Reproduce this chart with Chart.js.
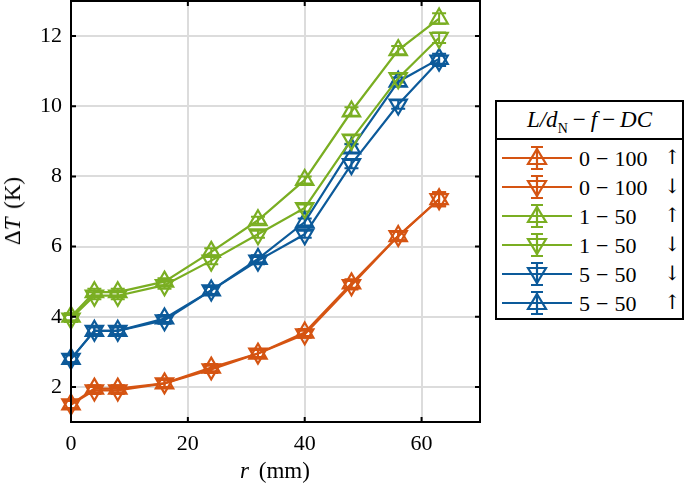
<!DOCTYPE html>
<html>
<head>
<meta charset="utf-8">
<script src="https://cdn.jsdelivr.net/npm/chart.js@4.4.1/dist/chart.umd.min.js"></script>
<style>
  body { margin: 0; background: #fff; font-family: "Liberation Serif", serif; color: #000; }
  #wrap { position: relative; width: 685px; height: 486px; }
  #chart { position: absolute; left: 0; top: 0; }
  .ylab { position: absolute; left: 13px; top: 211px; transform: translate(-50%, -50%) rotate(-90deg); font-size: 23px; white-space: nowrap; word-spacing: 3px; }
  .xlab { position: absolute; left: 275px; top: 471px; transform: translate(-50%, -50%); font-size: 23px; white-space: nowrap; word-spacing: 4px; }
  .m { margin: 0 6px; }
  #legend { position: absolute; left: 495px; top: 100px; width: 185px; height: 216px; border: 2px solid #000; background: #fff; }
  #legend .title { height: 36px; line-height: 36px; text-align: center; font-size: 23px; border-bottom: 2px solid #000; font-style: italic; white-space: nowrap; }
  #legend .title sub { font-style: normal; font-size: 14px; }
  #legend .title .m { font-style: normal; margin: 0 5px; }
  #legend .row { position: absolute; left: 0; height: 29px; width: 185px; font-size: 22px; white-space: nowrap; }
  #legend .row svg { position: absolute; left: 5px; top: 0; }
  #legend .row .txt { position: absolute; left: 82px; top: 2px; }
  #legend .row .arr { position: absolute; left: 167px; top: 1px; font-family: "DejaVu Serif", serif; font-size: 20px; color: #000; }
</style>
</head>
<body>
<div id="wrap">
  <canvas id="chart" width="685" height="486"></canvas>
  <div class="ylab">&Delta;<i>T</i> (K)</div>
  <div class="xlab"><i>r</i> (mm)</div>
  <div id="legend"><div class="title">L/d<sub>N</sub><span class="m">&minus;</span>f<span class="m">&minus;</span>DC</div></div>
</div>
<script>
const radius = [0, 4, 8, 16, 24, 32, 40, 48, 56, 63];
const orangeUp   = [1.5, 1.95, 1.95, 2.1, 2.55, 2.95, 3.55, 4.95, 6.3, 7.35];
const orangeDown = [1.5, 1.9, 1.9, 2.1, 2.5, 2.95, 3.5, 4.9, 6.3, 7.35];
const greenUp    = [4.0, 4.7, 4.7, 5.0, 5.85, 6.75, 7.9, 9.85, 11.6, 12.5];
const greenDown  = [3.95, 4.6, 4.6, 4.9, 5.6, 6.35, 7.1, 9.05, 10.8, 11.95];
const blueDown   = [2.8, 3.6, 3.6, 3.9, 4.75, 5.6, 6.35, 8.35, 10.05, 11.3];
const blueUp     = [2.8, 3.6, 3.6, 3.95, 4.75, 5.65, 6.7, 8.8, 10.7, 11.35];
const errOrange = [0.1, 0.1, 0.1, 0.1, 0.1, 0.1, 0.1, 0.12, 0.12, 0.2];
const errGreen  = [0.1, 0.1, 0.1, 0.1, 0.1, 0.1, 0.1, 0.12, 0.12, 0.15];
const errBlue   = [0.1, 0.1, 0.1, 0.1, 0.1, 0.1, 0.1, 0.12, 0.12, 0.15];
const xTicks = [0, 20, 40, 60];
const yTicks = [2, 4, 6, 8, 10, 12];

const seriesList = [
  { name: '0<span class="m">\u2212</span>100', arrow: '\u2191', color: '#D55412', values: orangeUp, err: errOrange, up: true },
  { name: '0<span class="m">\u2212</span>100', arrow: '\u2193', color: '#D55412', values: orangeDown, err: errOrange, up: false },
  { name: '1<span class="m">\u2212</span>50', arrow: '\u2191', color: '#7AAE22', values: greenUp, err: errGreen, up: true },
  { name: '1<span class="m">\u2212</span>50', arrow: '\u2193', color: '#7AAE22', values: greenDown, err: errGreen, up: false },
  { name: '5<span class="m">\u2212</span>50', arrow: '\u2193', color: '#0C5A9A', values: blueDown, err: errBlue, up: false },
  { name: '5<span class="m">\u2212</span>50', arrow: '\u2191', color: '#0C5A9A', values: blueUp, err: errBlue, up: true }
];

// error bars drawn from the scales
const errorBars = {
  id: 'errorBars',
  beforeDatasetsDraw(chart) {
    const ctx = chart.ctx;
    const xs = chart.scales.x, ys = chart.scales.y;
    seriesList.forEach(s => {
      ctx.save();
      ctx.strokeStyle = s.color;
      ctx.lineWidth = 2;
      s.values.forEach((v, i) => {
        const px = xs.getPixelForValue(radius[i]);
        const top = ys.getPixelForValue(v + s.err[i]);
        const bot = ys.getPixelForValue(v - s.err[i]);
        ctx.beginPath();
        ctx.moveTo(px, top); ctx.lineTo(px, bot);
        ctx.moveTo(px - 7, top); ctx.lineTo(px + 7, top);
        ctx.moveTo(px - 7, bot); ctx.lineTo(px + 7, bot);
        ctx.stroke();
      });
      ctx.restore();
    });
  }
};

// box around plot with inward ticks
const frame = {
  id: 'frame',
  afterDraw(chart) {
    const ctx = chart.ctx, a = chart.chartArea;
    const xs = chart.scales.x, ys = chart.scales.y;
    ctx.save();
    ctx.strokeStyle = '#000';
    ctx.lineWidth = 2;
    ctx.strokeRect(a.left, a.top, a.right - a.left, a.bottom - a.top);
    ctx.beginPath();
    xTicks.forEach(t => {
      const px = xs.getPixelForValue(t);
      ctx.moveTo(px, a.bottom); ctx.lineTo(px, a.bottom - 5);
      ctx.moveTo(px, a.top); ctx.lineTo(px, a.top + 5);
    });
    yTicks.forEach(t => {
      const py = ys.getPixelForValue(t);
      ctx.moveTo(a.left, py); ctx.lineTo(a.left + 5, py);
      ctx.moveTo(a.right, py); ctx.lineTo(a.right - 5, py);
    });
    ctx.stroke();
    ctx.restore();
  }
};

new Chart(document.getElementById('chart'), {
  type: 'line',
  data: {
    datasets: seriesList.map(s => ({
      label: s.arrow,
      data: s.values.map((v, i) => ({ x: radius[i], y: v })),
      borderColor: s.color,
      backgroundColor: 'rgba(0,0,0,0)',
      borderWidth: 2.2,
      pointStyle: 'triangle',
      pointRotation: s.up ? 0 : 180,
      pointRadius: 10,
      pointBorderWidth: 2.2,
      pointBorderColor: s.color,
      pointBackgroundColor: 'rgba(0,0,0,0)',
      tension: 0,
      clip: false
    }))
  },
  options: {
    responsive: false,
    animation: false,
    layout: { autoPadding: false, padding: { left: 0, right: 205, top: 1, bottom: 0 } },
    plugins: { legend: { display: false }, tooltip: { enabled: false } },
    scales: {
      x: {
        type: 'linear', min: 0, max: 70,
        afterFit: s => { s.height = 64; s.paddingLeft = 0; s.paddingRight = 0; },
        afterBuildTicks: s => { s.ticks = xTicks.map(v => ({ value: v })); },
        grid: { color: '#dcdcdc', lineWidth: 2, drawTicks: false },
        border: { display: false },
        ticks: { color: '#000', font: { family: 'Liberation Serif', size: 22 }, padding: 9, maxRotation: 0 }
      },
      y: {
        type: 'linear', min: 1, max: 13,
        afterFit: s => { s.width = 71; s.paddingTop = 0; s.paddingBottom = 0; },
        afterBuildTicks: s => { s.ticks = yTicks.map(v => ({ value: v })); },
        grid: { color: '#dcdcdc', lineWidth: 2, drawTicks: false },
        border: { display: false },
        ticks: { color: '#000', font: { family: 'Liberation Serif', size: 22 }, padding: 9 }
      }
    }
  },
  plugins: [errorBars, frame]
});

// legend rows
const legend = document.getElementById('legend');
seriesList.forEach((s, i) => {
  const row = document.createElement('div');
  row.className = 'row';
  row.style.top = (42 + i * 29) + 'px';
  const tri = s.up ? 'M35,5 L44,20 L26,20 Z' : 'M35,23 L44,8 L26,8 Z';
  row.innerHTML = `
    <svg width="76" height="29">
      <line x1="0" y1="14" x2="70" y2="14" stroke="${s.color}" stroke-width="2.2"/>
      <path d="M35,3 L35,25 M29,3 L41,3 M29,25 L41,25" stroke="${s.color}" stroke-width="2.2" fill="none"/>
      <path d="${tri}" stroke="${s.color}" stroke-width="2.2" fill="none"/>
    </svg>
    <span class="txt">${s.name}</span><span class="arr">${s.arrow}</span>`;
  legend.appendChild(row);
});
</script>
</body>
</html>
